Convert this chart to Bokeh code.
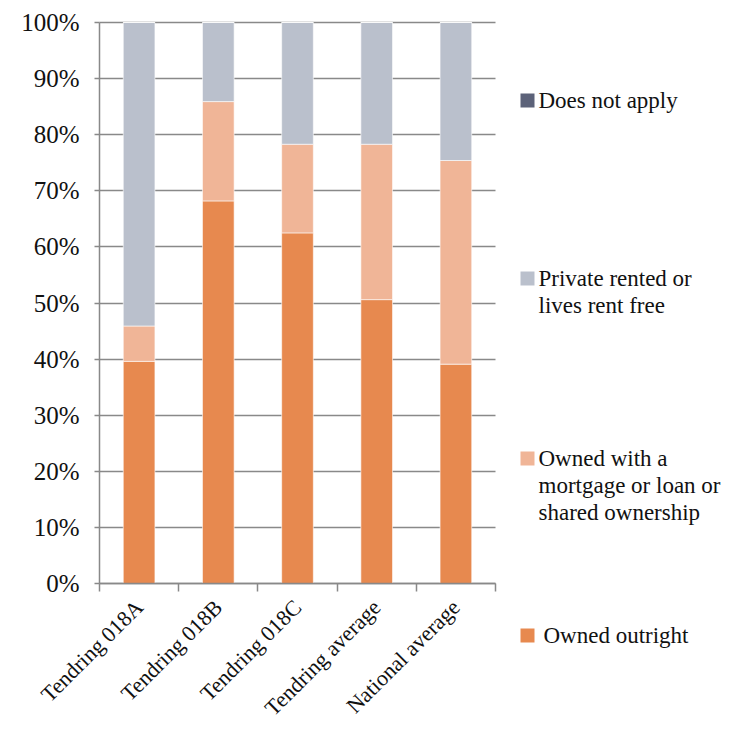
import math
from bokeh.plotting import figure
from bokeh.models import ColumnDataSource, FixedTicker, Range1d
from bokeh.core.properties import value
from bokeh.embed import file_html
from bokeh.resources import INLINE

categories = ["Tendring 018A", "Tendring 018B", "Tendring 018C", "Tendring average", "National average"]
owned_outright = [39.6, 68.2, 62.5, 50.6, 39.1]
owned_mortgage = [6.3, 17.7, 15.8, 27.7, 36.3]
private_rented = [54.1, 14.1, 21.7, 21.7, 24.6]
does_not_apply = [0.0, 0.0, 0.0, 0.0, 0.0]
y_ticks = [0, 10, 20, 30, 40, 50, 60, 70, 80, 90, 100]
y_tick_labels = [f"{t}%" for t in y_ticks]

series_keys = ["outright", "mortgage", "private", "dna"]
series_colors = ["#E7894F", "#F0B597", "#BAC0CC", "#5C6279"]
legend_lines = [
    ["Owned outright"],
    ["Owned with a", "mortgage or loan or", "shared ownership"],
    ["Private rented or", "lives rent free"],
    ["Does not apply"],
]

FONT = "Liberation Serif"
GRAY = "#898989"

# layout (pixels)
W, H = 726, 720
PL, PR, PT, PB = 99, 495, 22, 583        # plot area edges
n = len(categories)
px_per_x = (PR - PL) / n
px_per_y = (PB - PT) / 100.0

xs = [i + 0.5 for i in range(n)]
src = ColumnDataSource(dict(x=xs, outright=owned_outright, mortgage=owned_mortgage,
                            private=private_rented, dna=does_not_apply))

p = figure(width=W, height=H, output_backend="svg", toolbar_location=None,
           x_range=Range1d(-PL / px_per_x, (W - PL) / px_per_x),
           y_range=Range1d(-(H - PB) / px_per_y, PB / px_per_y),
           min_border_left=0, min_border_right=0, min_border_top=0, min_border_bottom=0)
p.extra_x_ranges = {"px": Range1d(0, W)}
p.extra_y_ranges = {"px": Range1d(H, 0)}
p.outline_line_color = None
p.background_fill_color = "white"

p.xgrid.grid_line_color = None
p.ygrid.grid_line_color = GRAY
p.ygrid.grid_line_width = 1.5
p.ygrid.ticker = FixedTicker(ticks=y_ticks)
p.ygrid.bounds = (0, 100)
p.ygrid.cross_bounds = (0, n)

p.vbar_stack(series_keys, x="x", width=0.4, source=src, color=series_colors,
             line_color="white", line_width=0.6)

ya = p.yaxis[0]
ya.fixed_location = 0
ya.ticker = FixedTicker(ticks=y_ticks)
ya.bounds = (0, 100)
ya.major_label_overrides = {t: s for t, s in zip(y_ticks, y_tick_labels)}
ya.axis_line_color = GRAY
ya.axis_line_width = 1.5
ya.major_tick_line_color = GRAY
ya.major_tick_line_width = 1.5
ya.major_tick_out = 5
ya.major_tick_in = 0
ya.minor_tick_line_color = None
ya.major_label_text_font = FONT
ya.major_label_text_font_size = "25px"
ya.major_label_text_color = "#111111"
ya.major_label_standoff = 15

xa = p.xaxis[0]
xa.fixed_location = 0
xa.bounds = (0, n)
xa.ticker = FixedTicker(ticks=xs, minor_ticks=list(range(n + 1)))
xa.major_label_overrides = {x: c for x, c in zip(xs, categories)}
xa.axis_line_color = GRAY
xa.axis_line_width = 1.5
xa.major_tick_line_color = None
xa.major_tick_out = 0
xa.minor_tick_line_color = GRAY
xa.minor_tick_line_width = 1.5
xa.minor_tick_out = 8
xa.minor_tick_in = 0
xa.major_label_orientation = math.pi / 4
xa.major_label_text_font = FONT
xa.major_label_text_font_size = "22px"
xa.major_label_text_color = "#111111"
xa.major_label_standoff = 12

# ---- legend (pixel coordinates via extra ranges) ----
first_line_y = [635, 458, 278, 100]
line_gap = 27
sq_x, sq_y, sq_c = [], [], []
tx, ty, tt = [], [], []
for lines, col, y0 in zip(legend_lines, series_colors, first_line_y):
    sq_x.append(527)
    sq_y.append(y0)
    sq_c.append(col)
    x0 = 543 if lines[0] == "Owned outright" else 538
    for k, line in enumerate(lines):
        tx.append(x0)
        ty.append(y0 + k * line_gap)
        tt.append(line)

p.scatter(x=sq_x, y=sq_y, marker="square", size=14, color=sq_c, line_color=None,
          x_range_name="px", y_range_name="px")
p.text(x=tx, y=ty, text=tt, text_font=value(FONT), text_font_size="23px",
       text_color="#111111", text_baseline="middle", text_align="left",
       x_range_name="px", y_range_name="px")

open("out.html", "w").write(file_html(p, INLINE))
